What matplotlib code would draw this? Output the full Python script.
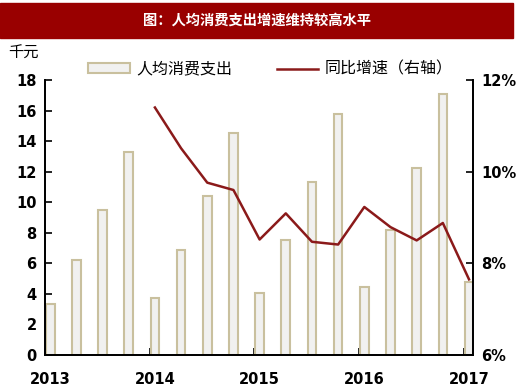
import numpy as np
import matplotlib.pyplot as plt
from matplotlib.patches import Rectangle
from matplotlib.lines import Line2D

plt.rcParams['font.family'] = ['DejaVu Sans', 'Noto Sans CJK SC']

quarters = ['2013Q1', '2013Q2', '2013Q3', '2013Q4',
            '2014Q1', '2014Q2', '2014Q3', '2014Q4',
            '2015Q1', '2015Q2', '2015Q3', '2015Q4',
            '2016Q1', '2016Q2', '2016Q3', '2016Q4',
            '2017Q1']
spend = [3.34, 6.23, 9.46, 13.27, 3.72, 6.9, 10.4, 14.5,
         4.09, 7.54, 11.3, 15.78, 4.43, 8.2, 12.24, 17.1, 4.79]
# yoy growth (%), starts 2014Q1
growth = [np.nan] * 4 + [11.40, 10.51, 9.76, 9.60, 8.52, 9.09, 8.47, 8.41,
                         9.23, 8.79, 8.50, 8.88, 7.65]
year_labels = ['2013', '2014', '2015', '2016', '2017']

bar_face = '#F1F1F0'
bar_edge = '#C9C09E'
line_col = '#8B1A1A'
banner_col = '#990000'

fig = plt.figure(figsize=(5.2, 3.91), dpi=100)
ax = fig.add_axes([0.0865, 0.0921, 0.823, 0.7033])
ax2 = ax.twinx()

x = np.arange(len(quarters)) + 0.2
ax.bar(x, spend, width=0.33, color=bar_face, edgecolor=bar_edge, linewidth=1.5, zorder=2)
ax2.plot(x, growth, color=line_col, lw=1.8)

ax.set_xlim(0, 16.35)
ax.set_ylim(0, 18)
ax.set_yticks(range(0, 19, 2))
ax2.set_ylim(6, 12)
ax2.set_yticks([6, 8, 10, 12])
ax2.set_yticklabels([f'{v}%' for v in [6, 8, 10, 12]])

# year ticks at boundaries, labels under the first-quarter bars
ax.set_xticks(range(0, 17, 4))
ax.set_xticklabels([])
ax.set_xticks(np.arange(0, 17, 4) + 0.2, minor=True)
ax.set_xticklabels(year_labels, minor=True)
ax.tick_params(axis='x', which='minor', length=0, pad=12)
ax.tick_params(axis='x', which='major', direction='in', length=5, width=1.2)
ax.tick_params(axis='y', direction='in', length=5, width=1.2, pad=6)
ax2.tick_params(axis='y', direction='in', length=5, width=1.2, pad=6)
for a in (ax, ax2):
    a.spines['top'].set_visible(False)
    for s in ('left', 'bottom', 'right'):
        a.spines[s].set_linewidth(1.3)
    for lab in a.get_xticklabels(minor=True) + a.get_yticklabels():
        lab.set_fontsize(10.5)
        lab.set_fontweight('semibold')

# title banner
fig.patches.append(Rectangle((0, 0.9028), 0.987, 0.0895, transform=fig.transFigure,
                             color=banner_col, zorder=0))
fig.text(0.495, 0.9475, '图：人均消费支出增速维持较高水平', color='white', fontsize=10.3,
         fontweight='bold', ha='center', va='center', family=['Noto Sans CJK SC'])
fig.text(0.015, 0.865, '千元', fontsize=11, ha='left', va='center',
         family=['Noto Sans CJK SC'])

handles = [Rectangle((0, 0), 1, 1, facecolor=bar_face, edgecolor=bar_edge, linewidth=1.5),
           Line2D([], [], color=line_col, lw=1.8)]
fig.legend(handles, ['人均消费支出', '同比增速（右轴）'], loc='center',
           bbox_to_anchor=(0.52, 0.823), ncol=2, frameon=False, handlelength=2.6,
           handleheight=0.5, columnspacing=2.8, handletextpad=0.4,
           prop={'family': 'Noto Sans CJK SC', 'size': 11.5})

fig.savefig('out.png', dpi=100)
